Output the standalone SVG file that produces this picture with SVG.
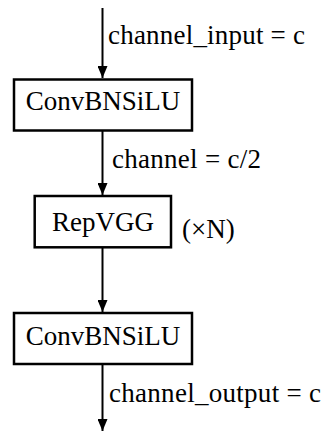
<svg xmlns="http://www.w3.org/2000/svg" width="322" height="432" viewBox="0 0 322 432">
<defs>
<style>
.box{fill:#fff;stroke:#000;stroke-width:2.5}
.t{font-family:"Liberation Serif","Times New Roman",serif;font-size:27px;fill:#000}
.c{text-anchor:middle}
.e{stroke:#000;stroke-width:2;fill:none}
</style>
<marker id="ah" viewBox="0 0 12 10" refX="12" refY="5" markerWidth="12" markerHeight="10" markerUnits="userSpaceOnUse" orient="auto">
<path d="M0,0 L12,5 L0,10 Z" fill="#000"/>
</marker>
</defs>
<g id="connectors">
<line class="e" x1="102.5" y1="8" x2="102.5" y2="78" marker-end="url(#ah)"/>
<line class="e" x1="102.5" y1="131" x2="102.5" y2="195" marker-end="url(#ah)"/>
<line class="e" x1="102.5" y1="248" x2="102.5" y2="312" marker-end="url(#ah)"/>
<line class="e" x1="102.5" y1="365" x2="102.5" y2="431" marker-end="url(#ah)"/>
<text class="t" x="108" y="44" textLength="197">channel_input = c</text>
<text class="t" x="112" y="168" textLength="149">channel = c/2</text>
<text class="t" x="109" y="402" textLength="212">channel_output = c</text>
</g>
<g id="conv1">
<rect class="box" x="14" y="79.5" width="178" height="51"/>
<text class="t c" x="103" y="110">ConvBNSiLU</text>
</g>
<g id="repvgg">
<rect class="box" x="34.7" y="196" width="136.3" height="51.3"/>
<text class="t c" x="103" y="231">RepVGG</text>
<text class="t" x="182" y="238">(×N)</text>
</g>
<g id="conv2">
<rect class="box" x="14" y="313" width="178" height="51"/>
<text class="t c" x="103" y="345">ConvBNSiLU</text>
</g>
</svg>
